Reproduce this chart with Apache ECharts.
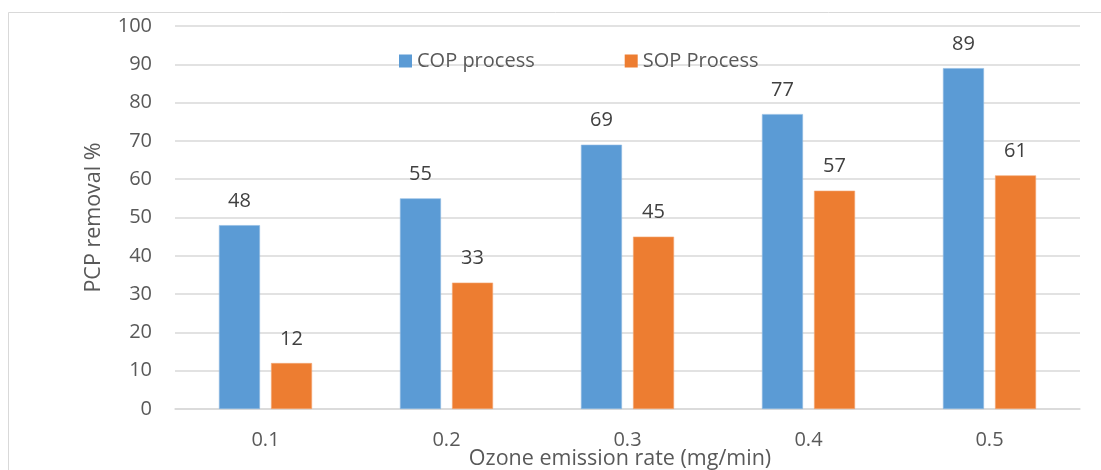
<!DOCTYPE html>
<html>
<head>
<meta charset="utf-8">
<style>
  html, body { margin: 0; padding: 0; background: #ffffff; }
  #chart { width: 1101px; height: 470px; }
</style>
<script src="https://cdn.jsdelivr.net/npm/echarts@6/dist/echarts.min.js"></script>
</head>
<body>
<div id="chart"></div>
<script>
// Ozone emission rates (mg/min)
const categories = ['0.1', '0.2', '0.3', '0.4', '0.5'];
// PCP removal (%) for each process
const copValues = [48, 55, 69, 77, 89];
const sopValues = [12, 33, 45, 57, 61];
const seriesNames = ['COP process', 'SOP Process'];

const FONT = '"Open Sans", "Liberation Sans", sans-serif';
const GREY = '#595959';

const chart = echarts.init(document.getElementById('chart'), null, { renderer: 'canvas' });

const labelStyle = {
  show: true,
  position: 'top',
  distance: 14,
  color: '#404040',
  fontFamily: FONT,
  fontSize: 20,
  lineHeight: 20
};

chart.setOption({
  animation: false,
  backgroundColor: '#ffffff',
  textStyle: { fontFamily: FONT },
  graphic: [{
    type: 'rect',
    shape: { x: 8.5, y: 12.5, width: 1200, height: 600 },
    style: { fill: 'none', stroke: '#d9d9d9', lineWidth: 1 },
    silent: true,
    z: -10
  }],
  legend: {
    data: seriesNames,
    left: 399,
    top: 51,
    padding: 0,
    icon: 'rect',
    itemWidth: 13,
    itemHeight: 13,
    itemGap: 90,
    itemStyle: { borderWidth: 0 },
    textStyle: { color: GREY, fontFamily: FONT, fontSize: 20 }
  },
  grid: { left: 175, right: 21, top: 26, bottom: 61, containLabel: false, outerBoundsMode: 'none' },
  xAxis: {
    type: 'category',
    data: categories,
    name: 'Ozone emission rate (mg/min)',
    nameLocation: 'middle',
    nameGap: 39,
    nameMoveOverlap: false,
    nameTextStyle: { color: GREY, fontFamily: FONT, fontSize: 21.5, padding: [0, 15, 0, 0] },
    axisLine: { lineStyle: { color: '#d9d9d9', width: 1.5 } },
    axisTick: { show: false },
    axisLabel: { color: GREY, fontFamily: FONT, fontSize: 20, margin: 21 }
  },
  yAxis: {
    type: 'value',
    min: 0,
    max: 100,
    interval: 10,
    name: 'PCP removal %',
    nameLocation: 'middle',
    nameGap: 70,
    nameMoveOverlap: false,
    nameTextStyle: { color: GREY, fontFamily: FONT, fontSize: 21.5 },
    axisLine: { show: false },
    axisTick: { show: false },
    axisLabel: { color: GREY, fontFamily: FONT, fontSize: 20, margin: 23 },
    splitLine: { lineStyle: { color: '#d9d9d9', width: 1.5 } }
  },
  series: [
    {
      name: seriesNames[0],
      type: 'bar',
      data: copValues,
      barWidth: 41,
      barGap: '27%',
      itemStyle: { color: '#5b9bd5', borderColor: '#8fbbe3', borderWidth: 0.6 },
      label: labelStyle
    },
    {
      name: seriesNames[1],
      type: 'bar',
      data: sopValues,
      barWidth: 41,
      barGap: '27%',
      itemStyle: { color: '#ed7d31', borderColor: '#f3a775', borderWidth: 0.6 },
      label: labelStyle
    }
  ]
});
</script>
</body>
</html>
